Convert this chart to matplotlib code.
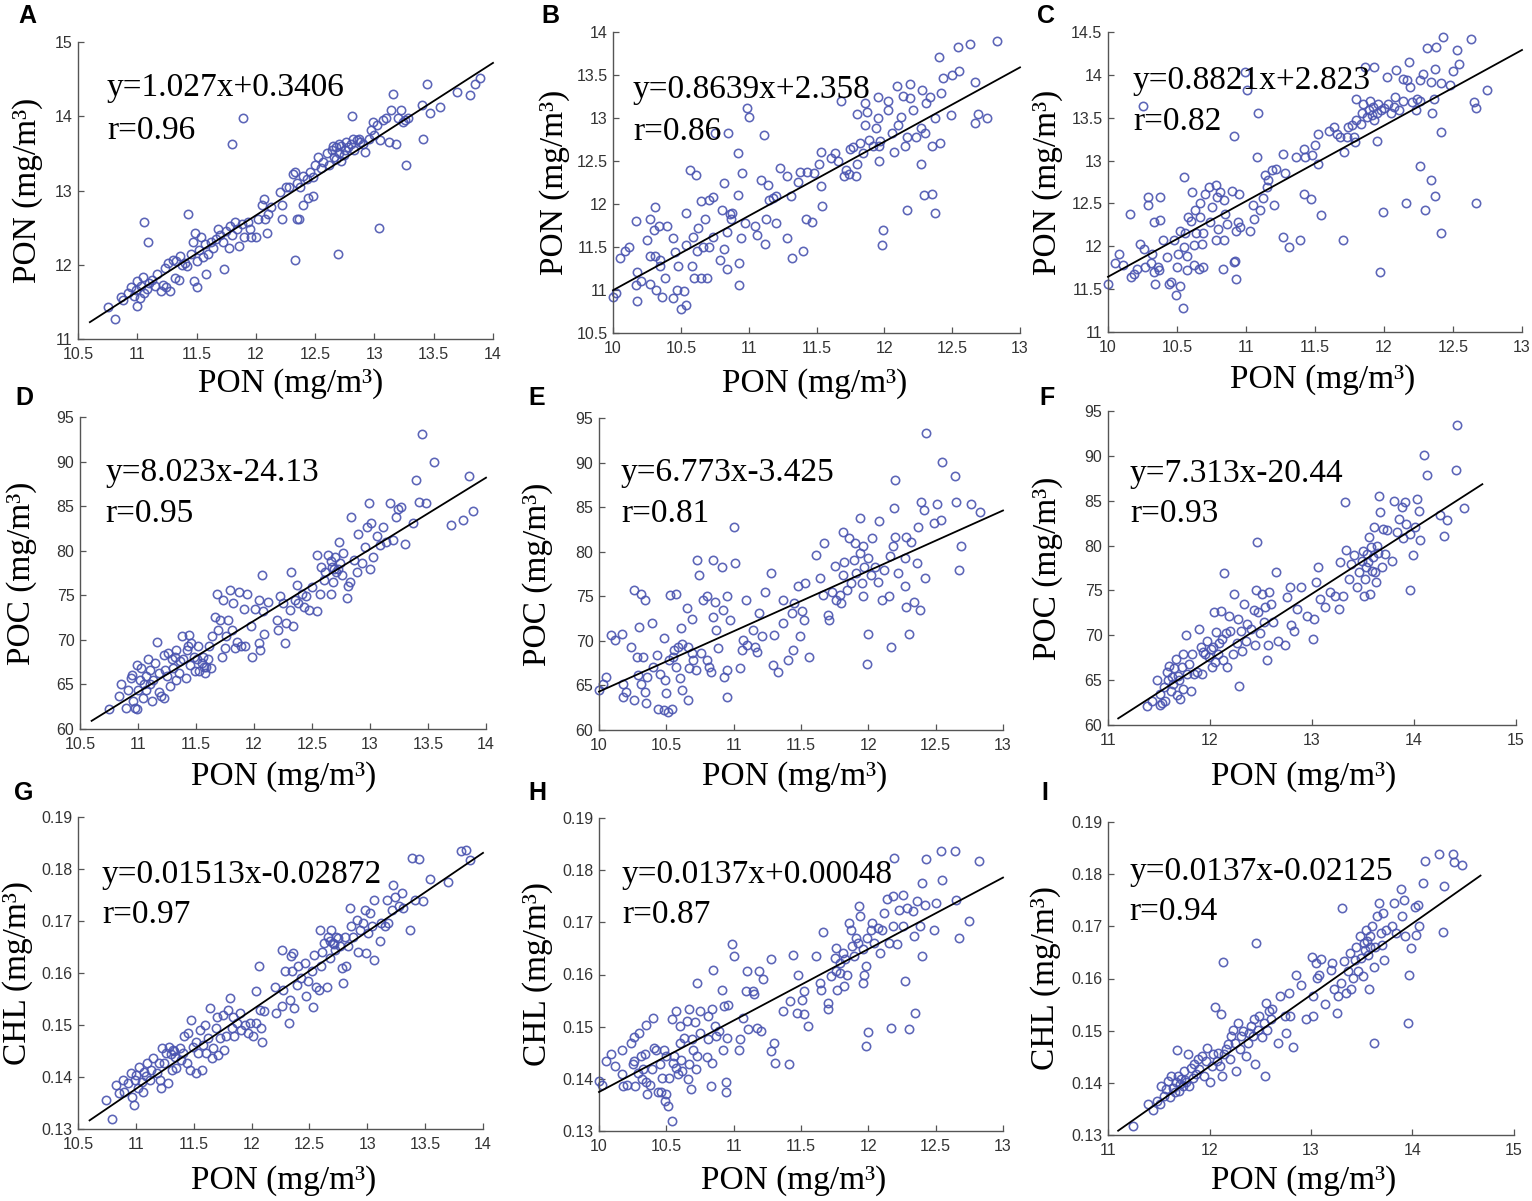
import matplotlib
matplotlib.use('Agg')
import matplotlib.pyplot as plt
import numpy as np
from matplotlib.ticker import FuncFormatter

plt.rcParams['font.family'] = ['Liberation Sans', 'DejaVu Sans']

# ---------------- data ----------------
a_points = [(11.89, 13.98), (11.80, 13.63), (11.43, 12.68), (11.06, 12.57), (11.09, 12.30), (12.33, 12.07),
            (12.69, 12.15), (13.04, 12.49), (13.27, 13.34), (13.41, 13.69), (13.44, 14.43), (13.16, 14.30),
            (12.81, 14.00), (13.70, 14.33), (13.81, 14.28), (13.85, 14.43), (13.89, 14.52), (13.55, 14.13),
            (13.47, 14.04), (13.40, 14.15), (12.35, 12.62), (12.36, 12.62), (12.48, 12.93), (12.44, 12.90),
            (12.40, 12.80), (12.22, 12.62), (12.09, 12.43), (11.96, 12.37), (12.00, 12.37), (11.73, 11.94),
            (11.50, 11.70), (11.58, 11.88), (11.48, 11.78), (10.75, 11.43), (10.81, 11.27), (11.00, 11.45),
            (10.86, 11.57), (10.88, 11.52), (10.92, 11.62), (10.95, 11.70), (10.97, 11.58), (10.99, 11.66),
            (11.00, 11.78), (11.02, 11.55), (11.03, 11.72), (11.05, 11.83), (11.06, 11.62), (11.08, 11.68),
            (11.10, 11.75), (11.12, 11.80), (11.15, 11.72), (11.17, 11.88), (11.20, 11.65), (11.22, 11.73),
            (11.23, 11.95), (11.24, 11.70), (11.26, 12.02), (11.28, 11.65), (11.30, 12.07), (11.32, 11.82),
            (11.33, 12.05), (11.35, 11.80), (11.36, 12.12), (11.38, 12.00), (11.40, 12.02), (11.42, 11.98),
            (11.45, 12.15), (11.47, 12.30), (11.49, 12.43), (11.50, 12.05), (11.52, 12.20), (11.54, 12.38),
            (11.55, 12.10), (11.57, 12.28), (11.60, 12.15), (11.62, 12.30), (11.64, 12.22), (11.66, 12.35),
            (11.68, 12.48), (11.70, 12.40), (11.72, 12.30), (11.75, 12.45), (11.77, 12.22), (11.78, 12.52),
            (11.80, 12.40), (11.82, 12.58), (11.84, 12.48), (11.86, 12.25), (11.88, 12.55), (11.90, 12.38),
            (11.93, 12.58), (11.95, 12.48), (12.02, 12.62), (12.05, 12.80), (12.07, 12.88), (12.10, 12.68),
            (12.08, 12.62), (12.13, 12.78), (12.20, 12.98), (12.22, 12.80), (12.25, 13.05), (12.28, 13.05),
            (12.31, 13.22), (12.33, 13.25), (12.35, 13.10), (12.37, 13.05), (12.40, 13.20), (12.43, 13.15),
            (12.46, 13.25), (12.48, 13.18), (12.50, 13.35), (12.52, 13.45), (12.55, 13.30), (12.57, 13.38),
            (12.60, 13.50), (12.62, 13.35), (12.64, 13.55), (12.66, 13.45), (12.68, 13.58), (12.70, 13.50),
            (12.72, 13.60), (12.74, 13.48), (12.76, 13.65), (12.78, 13.58), (12.80, 13.62), (12.83, 13.55),
            (12.85, 13.68), (12.87, 13.70), (12.90, 13.62), (12.92, 13.52), (12.95, 13.70), (12.97, 13.82),
            (12.99, 13.92), (13.00, 13.75), (13.02, 13.88), (13.05, 13.68), (13.07, 13.95), (13.10, 13.98),
            (13.12, 13.65), (13.14, 14.08), (13.18, 13.63), (13.20, 13.98), (13.22, 14.08), (13.24, 13.92),
            (13.26, 13.95), (13.28, 13.97), (12.65, 13.60), (12.70, 13.62), (12.75, 13.55), (12.82, 13.70),
            (12.88, 13.65), (12.68, 13.42), (12.72, 13.40)]

b_points = [(10.00, 10.92), (10.02, 10.97), (10.05, 11.37), (10.09, 11.45), (10.12, 11.50), (10.17, 11.80),
            (10.18, 11.21), (10.18, 10.87), (10.17, 11.06), (10.21, 11.10), (10.25, 11.58), (10.27, 11.82),
            (10.27, 11.40), (10.27, 11.07), (10.30, 11.70), (10.31, 11.97), (10.31, 11.40), (10.32, 11.00),
            (10.34, 11.74), (10.35, 11.35), (10.36, 10.92), (10.35, 11.28), (10.38, 11.14), (10.40, 11.74),
            (10.44, 11.60), (10.44, 10.91), (10.46, 11.44), (10.47, 11.00), (10.48, 11.28), (10.50, 10.78),
            (10.54, 10.83), (10.52, 10.99), (10.54, 11.89), (10.54, 11.52), (10.57, 12.39), (10.61, 12.34),
            (10.58, 11.28), (10.59, 11.62), (10.60, 11.14), (10.62, 11.45), (10.63, 11.72), (10.65, 12.03),
            (10.65, 11.14), (10.66, 11.50), (10.68, 11.83), (10.69, 11.14), (10.71, 12.05), (10.74, 12.08),
            (10.74, 11.62), (10.75, 12.82), (10.71, 11.50), (10.79, 11.35), (10.80, 11.93), (10.82, 12.24),
            (10.82, 11.48), (10.84, 11.25), (10.84, 11.68), (10.85, 12.82), (10.86, 11.88), (10.87, 11.82),
            (10.88, 11.90), (10.92, 12.59), (10.92, 12.10), (10.93, 11.31), (10.93, 11.06), (10.95, 12.36),
            (10.94, 11.60), (10.97, 11.78), (10.99, 13.12), (11.00, 13.01), (11.05, 11.74), (11.06, 11.64),
            (11.09, 12.28), (11.11, 12.80), (11.12, 11.53), (11.13, 11.83), (11.14, 12.22), (11.15, 12.05),
            (11.18, 12.07), (11.20, 11.78), (11.20, 12.09), (11.23, 12.42), (11.28, 12.33), (11.28, 11.60),
            (11.31, 12.09), (11.32, 11.37), (11.36, 12.26), (11.38, 12.37), (11.40, 11.45), (11.42, 11.83),
            (11.43, 12.37), (11.47, 11.79), (11.48, 12.36), (11.52, 12.47), (11.53, 12.60), (11.53, 12.21),
            (11.54, 11.98), (11.61, 12.53), (11.64, 12.59), (11.66, 12.50), (11.68, 13.20), (11.70, 12.33),
            (11.72, 12.39), (11.74, 12.35), (11.75, 12.64), (11.77, 12.66), (11.79, 12.32), (11.80, 13.05),
            (11.80, 12.47), (11.82, 12.71), (11.84, 12.59), (11.86, 13.17), (11.87, 13.07), (11.86, 12.92),
            (11.89, 12.74), (11.92, 12.68), (11.94, 12.88), (11.95, 13.00), (11.95, 13.25), (11.96, 12.50),
            (11.96, 12.67), (11.97, 12.73), (11.99, 11.70), (11.98, 11.52), (12.03, 13.20), (12.03, 13.09),
            (12.06, 12.82), (12.07, 12.60), (12.09, 13.37), (12.10, 12.92), (12.12, 13.01), (12.14, 13.26),
            (12.15, 12.67), (12.17, 12.78), (12.17, 11.93), (12.19, 13.40), (12.19, 13.23), (12.21, 13.09),
            (12.23, 12.78), (12.27, 12.88), (12.28, 13.32), (12.27, 12.47), (12.29, 12.10), (12.30, 12.82),
            (12.31, 13.17), (12.34, 13.25), (12.35, 12.67), (12.35, 12.12), (12.37, 11.90), (12.37, 13.00),
            (12.40, 13.71), (12.41, 12.71), (12.42, 13.29), (12.43, 13.46), (12.49, 13.03), (12.50, 13.50),
            (12.54, 13.83), (12.55, 13.55), (12.63, 13.86), (12.67, 13.42), (12.67, 12.94), (12.69, 13.05),
            (12.76, 13.00), (12.83, 13.90)]

c_points = [(10.00, 11.56), (10.05, 11.81), (10.08, 11.91), (10.11, 11.78), (10.16, 12.38), (10.17, 11.64),
            (10.19, 11.68), (10.21, 11.74), (10.23, 12.03), (10.25, 13.64), (10.26, 11.97), (10.27, 11.76),
            (10.29, 12.57), (10.29, 12.48), (10.31, 11.80), (10.32, 11.91), (10.33, 12.28), (10.33, 11.70),
            (10.34, 11.56), (10.36, 11.76), (10.38, 12.57), (10.38, 12.31), (10.37, 11.72), (10.40, 12.07),
            (10.43, 11.87), (10.44, 11.56), (10.46, 11.58), (10.48, 12.07), (10.49, 11.43), (10.50, 11.76),
            (10.51, 11.91), (10.52, 12.18), (10.52, 11.54), (10.54, 11.28), (10.55, 11.99), (10.55, 12.81),
            (10.56, 12.15), (10.57, 11.72), (10.57, 11.89), (10.58, 12.34), (10.60, 12.30), (10.61, 12.63),
            (10.62, 12.01), (10.62, 11.78), (10.63, 12.42), (10.64, 12.15), (10.66, 11.74), (10.67, 12.34),
            (10.67, 12.50), (10.68, 12.03), (10.69, 12.15), (10.69, 11.76), (10.70, 12.61), (10.73, 12.69),
            (10.74, 12.28), (10.75, 12.46), (10.78, 12.71), (10.78, 12.07), (10.79, 12.57), (10.80, 12.20),
            (10.81, 12.63), (10.83, 11.74), (10.84, 12.07), (10.84, 12.54), (10.85, 12.38), (10.86, 12.26),
            (10.90, 12.65), (10.91, 11.82), (10.92, 11.83), (10.91, 13.29), (10.93, 12.18), (10.93, 11.62),
            (10.94, 12.28), (10.95, 12.61), (10.96, 12.22), (10.99, 14.03), (11.01, 13.82), (11.03, 12.18),
            (11.05, 12.48), (11.06, 12.32), (11.08, 13.04), (11.09, 13.55), (11.10, 12.42), (11.12, 12.56),
            (11.14, 12.83), (11.15, 12.69), (11.16, 12.77), (11.19, 12.89), (11.20, 12.48), (11.22, 12.90),
            (11.27, 13.08), (11.27, 12.11), (11.28, 12.85), (11.31, 11.99), (11.36, 13.04), (11.39, 12.07),
            (11.42, 13.14), (11.42, 12.61), (11.43, 13.04), (11.47, 12.55), (11.48, 13.06), (11.50, 13.18),
            (11.52, 13.31), (11.52, 12.96), (11.54, 12.36), (11.60, 13.35), (11.64, 13.39), (11.66, 13.31),
            (11.68, 13.27), (11.70, 12.07), (11.71, 13.10), (11.73, 13.27), (11.74, 13.39), (11.77, 13.41),
            (11.78, 13.27), (11.79, 13.22), (11.80, 13.72), (11.80, 13.47), (11.83, 13.43), (11.84, 13.55),
            (11.85, 13.66), (11.86, 14.09), (11.88, 13.51), (11.89, 13.59), (11.90, 13.70), (11.91, 13.53),
            (11.92, 13.62), (11.93, 14.09), (11.93, 13.47), (11.95, 13.55), (11.95, 13.23), (11.96, 13.66),
            (11.97, 11.70), (11.98, 13.59), (11.99, 12.40), (12.00, 13.61), (12.02, 13.97), (12.03, 13.66),
            (12.05, 13.55), (12.07, 13.62), (12.08, 13.74), (12.09, 14.06), (12.11, 13.59), (12.14, 13.70),
            (12.14, 13.95), (12.16, 12.50), (12.18, 14.15), (12.17, 13.94), (12.19, 13.86), (12.20, 13.68),
            (12.23, 13.59), (12.24, 13.72), (12.26, 13.70), (12.26, 12.94), (12.26, 13.94), (12.28, 14.01),
            (12.30, 12.42), (12.31, 14.31), (12.34, 12.77), (12.34, 13.92), (12.35, 13.55), (12.36, 13.72),
            (12.37, 12.59), (12.37, 14.07), (12.38, 14.33), (12.41, 13.90), (12.41, 13.33), (12.41, 12.15),
            (12.43, 14.44), (12.48, 13.88), (12.50, 14.05), (12.53, 14.29), (12.54, 14.13), (12.63, 14.42),
            (12.65, 13.68), (12.67, 13.61), (12.67, 12.50), (12.75, 13.82)]

d_points = [(10.75, 62.2), (10.84, 63.7), (10.85, 65.1), (10.90, 62.4), (10.91, 64.4), (10.94, 65.7),
            (10.95, 66.1), (10.96, 63.1), (10.97, 62.4), (10.99, 67.2), (10.99, 62.2), (11.00, 64.4),
            (11.02, 65.5), (11.03, 66.8), (11.04, 63.5), (11.05, 65.1), (11.07, 64.4), (11.07, 65.9),
            (11.09, 67.9), (11.10, 65.1), (11.10, 66.6), (11.12, 63.1), (11.13, 65.5), (11.15, 67.4),
            (11.16, 69.8), (11.18, 64.2), (11.18, 66.3), (11.20, 63.7), (11.22, 63.5), (11.22, 68.3),
            (11.23, 66.6), (11.25, 65.9), (11.26, 68.5), (11.28, 64.8), (11.29, 67.8), (11.30, 66.8),
            (11.32, 68.1), (11.33, 65.5), (11.33, 68.9), (11.35, 66.3), (11.36, 67.6), (11.38, 70.4),
            (11.39, 67.9), (11.41, 65.7), (11.42, 68.9), (11.43, 69.3), (11.44, 70.6), (11.45, 67.2),
            (11.46, 69.6), (11.48, 68.1), (11.49, 66.5), (11.51, 67.8), (11.52, 69.3), (11.53, 66.5),
            (11.55, 67.4), (11.56, 68.1), (11.58, 66.3), (11.59, 67.0), (11.61, 69.3), (11.63, 66.8),
            (11.64, 70.4), (11.66, 72.6), (11.68, 75.2), (11.69, 71.1), (11.71, 72.2), (11.72, 68.1),
            (11.73, 74.5), (11.75, 69.1), (11.76, 70.4), (11.78, 72.2), (11.79, 75.6), (11.81, 71.1),
            (11.82, 74.1), (11.84, 69.1), (11.85, 69.8), (11.87, 75.4), (11.89, 69.3), (11.91, 73.5),
            (11.92, 69.3), (11.94, 75.1), (11.97, 71.5), (11.98, 68.1), (12.01, 73.5), (12.04, 74.5),
            (12.04, 69.6), (12.05, 68.9), (12.07, 77.3), (12.08, 73.2), (12.09, 70.7), (12.12, 74.3),
            (12.20, 72.2), (12.21, 71.1), (12.22, 74.9), (12.25, 74.1), (12.27, 69.6), (12.28, 71.9),
            (12.31, 73.4), (12.32, 77.6), (12.34, 71.5), (12.35, 74.5), (12.37, 76.2), (12.38, 74.1),
            (12.41, 75.2), (12.43, 73.7), (12.45, 74.9), (12.47, 73.4), (12.50, 75.9), (12.54, 73.2),
            (12.54, 79.5), (12.57, 75.2), (12.58, 78.2), (12.60, 76.7), (12.61, 77.6), (12.64, 79.5),
            (12.66, 75.2), (12.67, 78.2), (12.68, 76.5), (12.70, 79.3), (12.71, 77.6), (12.73, 81.0),
            (12.74, 78.6), (12.76, 77.3), (12.77, 79.7), (12.80, 74.7), (12.81, 76.0), (12.83, 76.5),
            (12.84, 83.8), (12.86, 79.0), (12.89, 77.6), (12.90, 81.9), (12.93, 78.6), (12.96, 80.4),
            (12.97, 82.7), (12.99, 85.3), (13.00, 78.0), (13.01, 83.1), (13.03, 79.3), (13.06, 81.6),
            (13.09, 80.6), (13.11, 82.7), (13.14, 81.0), (13.17, 85.3), (13.20, 81.2), (13.22, 83.8),
            (13.24, 84.7), (13.27, 84.9), (13.30, 80.8), (13.37, 83.1), (13.40, 87.9), (13.42, 85.5),
            (13.45, 93.1), (13.48, 85.3), (13.55, 90.0), (13.70, 82.9), (13.80, 83.4), (13.85, 88.4),
            (13.89, 84.4), (11.57, 66.9), (11.60, 67.8), (12.66, 78.8), (12.69, 77.9), (12.72, 78.0)]

e_points = [(10.00, 64.5), (10.03, 65.2), (10.05, 66.0), (10.09, 70.7), (10.12, 70.1), (10.17, 70.8),
            (10.18, 65.2), (10.18, 63.7), (10.20, 64.3), (10.24, 69.3), (10.26, 75.7), (10.26, 63.4),
            (10.28, 68.2), (10.29, 66.2), (10.30, 71.6), (10.31, 75.3), (10.31, 65.2), (10.33, 68.2),
            (10.34, 74.6), (10.34, 64.3), (10.35, 63.0), (10.36, 66.0), (10.39, 72.0), (10.40, 67.1),
            (10.43, 68.4), (10.44, 62.4), (10.45, 66.3), (10.48, 62.2), (10.48, 70.3), (10.49, 65.6),
            (10.50, 64.1), (10.51, 62.0), (10.52, 67.8), (10.53, 75.2), (10.54, 62.4), (10.55, 68.2),
            (10.56, 69.0), (10.57, 75.3), (10.57, 67.1), (10.59, 69.3), (10.60, 65.8), (10.61, 71.4),
            (10.62, 69.7), (10.62, 64.5), (10.65, 73.7), (10.66, 69.3), (10.66, 63.4), (10.67, 66.9),
            (10.69, 72.5), (10.69, 68.6), (10.70, 67.8), (10.72, 66.7), (10.73, 79.1), (10.74, 77.4),
            (10.76, 68.6), (10.77, 74.6), (10.80, 67.8), (10.80, 75.0), (10.82, 67.1), (10.83, 66.5),
            (10.85, 79.1), (10.85, 72.7), (10.86, 74.4), (10.87, 71.2), (10.88, 69.2), (10.91, 78.3),
            (10.92, 73.5), (10.93, 66.0), (10.95, 66.7), (10.95, 63.7), (10.95, 75.0), (10.97, 72.3),
            (11.00, 82.8), (11.01, 78.7), (11.05, 66.9), (11.06, 69.0), (11.07, 70.1), (11.09, 74.6),
            (11.10, 69.5), (11.14, 71.2), (11.16, 69.3), (11.17, 68.8), (11.19, 73.1), (11.21, 70.5),
            (11.23, 75.5), (11.28, 77.6), (11.29, 67.3), (11.30, 70.7), (11.33, 66.5), (11.37, 72.0),
            (11.37, 74.6), (11.40, 67.8), (11.43, 73.1), (11.44, 69.0), (11.45, 74.2), (11.48, 76.1),
            (11.49, 70.5), (11.51, 73.3), (11.52, 72.3), (11.53, 76.5), (11.56, 68.2), (11.61, 79.6),
            (11.64, 77.0), (11.66, 75.1), (11.67, 81.0), (11.70, 72.9), (11.71, 72.3), (11.73, 75.5),
            (11.75, 78.4), (11.76, 74.6), (11.79, 75.1), (11.80, 74.2), (11.81, 82.2), (11.81, 77.4),
            (11.82, 78.9), (11.84, 75.7), (11.86, 81.5), (11.87, 76.5), (11.89, 79.1), (11.90, 81.0),
            (11.91, 77.6), (11.94, 83.8), (11.94, 79.8), (11.95, 76.5), (11.96, 75.0), (11.96, 80.6),
            (11.97, 78.3), (12.00, 79.3), (12.00, 70.8), (11.99, 67.4), (12.02, 77.4), (12.03, 81.5),
            (12.05, 78.3), (12.07, 76.6), (12.08, 83.4), (12.10, 74.6), (12.12, 78.0), (12.15, 75.0),
            (12.16, 79.5), (12.17, 69.3), (12.18, 80.6), (12.19, 84.9), (12.20, 88.1), (12.20, 81.7),
            (12.22, 77.6), (12.27, 79.3), (12.27, 76.1), (12.28, 73.8), (12.28, 81.7), (12.30, 70.8),
            (12.32, 81.1), (12.34, 74.4), (12.36, 78.7), (12.37, 82.8), (12.38, 73.5), (12.39, 85.6),
            (12.41, 84.7), (12.42, 77.0), (12.43, 93.3), (12.49, 83.2), (12.51, 85.3), (12.54, 83.6),
            (12.55, 90.1), (12.64, 88.5), (12.65, 85.6), (12.67, 78.0), (12.69, 80.6), (12.76, 85.3),
            (12.83, 84.4)]

f_points = [(11.38, 62.1), (11.43, 62.7), (11.48, 65.0), (11.51, 62.2), (11.51, 63.5), (11.53, 62.4),
            (11.55, 64.2), (11.56, 62.7), (11.58, 65.9), (11.59, 65.0), (11.60, 66.6), (11.62, 63.8),
            (11.63, 65.3), (11.64, 64.6), (11.65, 66.3), (11.67, 67.4), (11.68, 63.3), (11.69, 65.5),
            (11.70, 65.0), (11.71, 62.9), (11.73, 66.5), (11.74, 67.9), (11.74, 64.0), (11.76, 70.0),
            (11.77, 65.7), (11.79, 66.8), (11.81, 63.8), (11.82, 67.9), (11.84, 65.7), (11.87, 65.9),
            (11.89, 70.7), (11.91, 68.7), (11.92, 65.7), (11.93, 68.1), (11.95, 67.9), (11.97, 69.4),
            (11.99, 67.6), (12.01, 68.5), (12.02, 66.5), (12.03, 68.7), (12.04, 72.6), (12.05, 67.0),
            (12.06, 70.4), (12.08, 67.9), (12.09, 69.1), (12.11, 72.7), (12.12, 69.6), (12.13, 67.2),
            (12.14, 76.9), (12.16, 70.2), (12.17, 66.5), (12.19, 72.2), (12.20, 70.5), (12.23, 67.9),
            (12.24, 74.6), (12.26, 69.1), (12.27, 71.8), (12.28, 64.3), (12.30, 70.5), (12.31, 68.3),
            (12.33, 73.5), (12.35, 69.4), (12.36, 71.3), (12.40, 70.7), (12.43, 72.8), (12.44, 68.9),
            (12.45, 75.1), (12.46, 80.4), (12.47, 72.6), (12.49, 70.2), (12.51, 74.6), (12.53, 71.5),
            (12.54, 73.1), (12.56, 67.2), (12.57, 68.9), (12.58, 74.8), (12.60, 73.5), (12.62, 71.5),
            (12.65, 77.0), (12.67, 69.4), (12.74, 68.9), (12.75, 74.3), (12.78, 75.4), (12.79, 71.1),
            (12.82, 70.5), (12.85, 72.9), (12.89, 75.4), (12.95, 72.2), (13.01, 69.6), (13.02, 71.8),
            (13.04, 75.9), (13.06, 77.6), (13.08, 74.1), (13.13, 73.1), (13.18, 74.8), (13.23, 74.4),
            (13.26, 72.9), (13.27, 78.2), (13.30, 74.4), (13.32, 84.9), (13.33, 79.5), (13.36, 76.3),
            (13.38, 78.0), (13.41, 78.9), (13.44, 75.4), (13.46, 77.0), (13.49, 78.3), (13.51, 74.4),
            (13.52, 76.3), (13.54, 79.1), (13.56, 80.9), (13.57, 74.6), (13.59, 77.2), (13.60, 78.7),
            (13.61, 82.1), (13.63, 75.9), (13.64, 80.0), (13.66, 85.5), (13.67, 83.7), (13.69, 77.6),
            (13.70, 81.9), (13.72, 79.1), (13.74, 81.7), (13.78, 78.3), (13.80, 85.0), (13.83, 81.5),
            (13.85, 83.0), (13.88, 84.3), (13.89, 80.8), (13.91, 84.9), (13.92, 82.4), (13.96, 75.1),
            (13.96, 81.3), (13.99, 78.9), (14.01, 82.1), (14.03, 85.2), (14.05, 83.9), (14.06, 80.6),
            (14.10, 90.1), (14.13, 87.9), (14.25, 83.4), (14.29, 81.1), (14.32, 82.9), (14.41, 88.4),
            (14.42, 93.4), (14.49, 84.2), (13.50, 79.4), (13.55, 78.2), (13.58, 79.8), (13.62, 77.0),
            (13.53, 77.6), (13.65, 79.2)]

g_points = [(10.74, 0.1356), (10.79, 0.1320), (10.83, 0.1385), (10.85, 0.1369), (10.89, 0.1394), (10.90, 0.1372),
            (10.93, 0.1388), (10.96, 0.1407), (10.97, 0.1362), (10.98, 0.1346), (10.99, 0.1394), (11.00, 0.1404),
            (11.02, 0.1378), (11.03, 0.1420), (11.05, 0.1391), (11.06, 0.1372), (11.07, 0.1410), (11.09, 0.1401),
            (11.10, 0.1426), (11.12, 0.1394), (11.13, 0.1414), (11.15, 0.1436), (11.18, 0.1407), (11.20, 0.1426),
            (11.21, 0.1394), (11.22, 0.1378), (11.23, 0.1455), (11.24, 0.1426), (11.26, 0.1446), (11.28, 0.1388),
            (11.29, 0.1458), (11.31, 0.1414), (11.32, 0.1452), (11.34, 0.1439), (11.35, 0.1417), (11.38, 0.1455),
            (11.39, 0.1433), (11.41, 0.1446), (11.42, 0.1478), (11.44, 0.1426), (11.45, 0.1484), (11.47, 0.1414),
            (11.48, 0.1510), (11.49, 0.1458), (11.52, 0.1407), (11.52, 0.1468), (11.54, 0.1446), (11.55, 0.1491),
            (11.57, 0.1414), (11.58, 0.1462), (11.60, 0.1500), (11.61, 0.1446), (11.62, 0.1475), (11.64, 0.1532),
            (11.66, 0.1436), (11.67, 0.1455), (11.69, 0.1494), (11.70, 0.1516), (11.71, 0.1442), (11.73, 0.1475),
            (11.75, 0.1519), (11.76, 0.1452), (11.78, 0.1478), (11.80, 0.1529), (11.81, 0.1551), (11.83, 0.1494),
            (11.84, 0.1516), (11.85, 0.1478), (11.87, 0.1503), (11.90, 0.1523), (11.91, 0.1491), (11.94, 0.1500),
            (11.97, 0.1484), (11.99, 0.1503), (12.01, 0.1478), (12.04, 0.1503), (12.04, 0.1566), (12.06, 0.1613),
            (12.07, 0.1529), (12.08, 0.1494), (12.09, 0.1468), (12.11, 0.1526), (12.20, 0.1574), (12.21, 0.1523),
            (12.26, 0.1536), (12.26, 0.1645), (12.27, 0.1568), (12.29, 0.1603), (12.32, 0.1503), (12.33, 0.1548),
            (12.34, 0.1632), (12.35, 0.1603), (12.36, 0.1638), (12.37, 0.1532), (12.39, 0.1577), (12.40, 0.1613),
            (12.43, 0.1590), (12.46, 0.1619), (12.47, 0.1555), (12.49, 0.1584), (12.52, 0.1603), (12.53, 0.1535),
            (12.54, 0.1635), (12.56, 0.1574), (12.58, 0.1568), (12.59, 0.1683), (12.60, 0.1613), (12.61, 0.1641),
            (12.63, 0.1657), (12.65, 0.1574), (12.66, 0.1670), (12.68, 0.1629), (12.69, 0.1683), (12.70, 0.1657),
            (12.72, 0.1645), (12.73, 0.1670), (12.76, 0.1651), (12.78, 0.1609), (12.79, 0.1580), (12.81, 0.1670),
            (12.82, 0.1613), (12.83, 0.1651), (12.85, 0.1725), (12.86, 0.1690), (12.88, 0.1670), (12.91, 0.1702),
            (12.92, 0.1641), (12.94, 0.1683), (12.96, 0.1696), (12.98, 0.1722), (12.99, 0.1638), (13.01, 0.1677),
            (13.02, 0.1715), (13.04, 0.1690), (13.06, 0.1625), (13.06, 0.1741), (13.11, 0.1661), (13.12, 0.1696),
            (13.15, 0.1690), (13.17, 0.1741), (13.18, 0.1696), (13.21, 0.1722), (13.22, 0.1770), (13.24, 0.1747),
            (13.27, 0.1728), (13.30, 0.1754), (13.31, 0.1725), (13.37, 0.1683), (13.39, 0.1822), (13.41, 0.1741),
            (13.45, 0.1819), (13.48, 0.1738), (13.54, 0.1781), (13.70, 0.1775), (13.81, 0.1834), (13.85, 0.1837),
            (13.89, 0.1818), (11.30, 0.1445), (11.33, 0.1450), (12.68, 0.1662), (12.71, 0.1655), (12.75, 0.1668)]

h_points = [(10.00, 0.1396), (10.02, 0.1388), (10.05, 0.1434), (10.09, 0.1447), (10.12, 0.1425), (10.17, 0.1456),
            (10.17, 0.1409), (10.18, 0.1386), (10.21, 0.1389), (10.24, 0.1469), (10.25, 0.1428), (10.26, 0.1481),
            (10.26, 0.1434), (10.27, 0.1386), (10.29, 0.1412), (10.30, 0.1488), (10.31, 0.1444), (10.32, 0.1399),
            (10.33, 0.1418), (10.34, 0.1447), (10.35, 0.1504), (10.35, 0.1393), (10.36, 0.1370), (10.38, 0.1389),
            (10.39, 0.1418), (10.40, 0.1517), (10.41, 0.1460), (10.42, 0.1456), (10.44, 0.1374), (10.45, 0.1428),
            (10.46, 0.1374), (10.47, 0.1402), (10.48, 0.1456), (10.49, 0.1358), (10.50, 0.1444), (10.50, 0.1370),
            (10.51, 0.1348), (10.52, 0.1402), (10.54, 0.1514), (10.54, 0.1319), (10.55, 0.1431), (10.56, 0.1444),
            (10.57, 0.1530), (10.57, 0.1421), (10.59, 0.1409), (10.60, 0.1469), (10.60, 0.1501), (10.61, 0.1437),
            (10.62, 0.1415), (10.63, 0.1479), (10.65, 0.1511), (10.66, 0.1399), (10.67, 0.1428), (10.67, 0.1533),
            (10.68, 0.1380), (10.69, 0.1476), (10.70, 0.1456), (10.71, 0.1508), (10.72, 0.1418), (10.73, 0.1583),
            (10.73, 0.1444), (10.75, 0.1488), (10.75, 0.1530), (10.80, 0.1441), (10.81, 0.1520), (10.81, 0.1476),
            (10.83, 0.1386), (10.84, 0.1533), (10.84, 0.1431), (10.85, 0.1608), (10.86, 0.1501), (10.87, 0.1482),
            (10.89, 0.1492), (10.91, 0.1571), (10.92, 0.1456), (10.93, 0.1539), (10.94, 0.1393), (10.94, 0.1374),
            (10.95, 0.1479), (10.96, 0.1541), (10.99, 0.1659), (11.00, 0.1636), (11.04, 0.1456), (11.05, 0.1476),
            (11.07, 0.1517), (11.09, 0.1568), (11.10, 0.1606), (11.11, 0.1495), (11.14, 0.1568), (11.15, 0.1562),
            (11.17, 0.1498), (11.19, 0.1606), (11.20, 0.1492), (11.22, 0.1591), (11.28, 0.1453), (11.28, 0.1630),
            (11.30, 0.1469), (11.31, 0.1431), (11.37, 0.1530), (11.41, 0.1428), (11.42, 0.1549), (11.44, 0.1638),
            (11.48, 0.1600), (11.47, 0.1527), (11.51, 0.1552), (11.52, 0.1568), (11.52, 0.1524), (11.55, 0.1501),
            (11.61, 0.1635), (11.64, 0.1584), (11.65, 0.1571), (11.66, 0.1681), (11.70, 0.1546), (11.70, 0.1533),
            (11.72, 0.1597), (11.75, 0.1632), (11.76, 0.1606), (11.76, 0.1651), (11.77, 0.1571), (11.79, 0.1622),
            (11.79, 0.1603), (11.81, 0.1642), (11.82, 0.1578), (11.83, 0.1629), (11.84, 0.1600), (11.86, 0.1699),
            (11.87, 0.1686), (11.88, 0.1654), (11.89, 0.1635), (11.91, 0.1670), (11.92, 0.1661), (11.93, 0.1731),
            (11.94, 0.1712), (11.96, 0.1648), (11.96, 0.1584), (11.97, 0.1600), (11.98, 0.1616), (11.98, 0.1463),
            (11.99, 0.1670), (12.00, 0.1490), (12.02, 0.1686), (12.03, 0.1699), (12.04, 0.1661), (12.07, 0.1689),
            (12.09, 0.1642), (12.10, 0.1686), (12.12, 0.1718), (12.14, 0.1744), (12.15, 0.1661), (12.17, 0.1498),
            (12.18, 0.1693), (12.18, 0.1750), (12.19, 0.1823), (12.21, 0.1658), (12.23, 0.1724), (12.26, 0.1753),
            (12.26, 0.1693), (12.27, 0.1587), (12.29, 0.1728), (12.30, 0.1495), (12.33, 0.1721), (12.34, 0.1673),
            (12.35, 0.1527), (12.36, 0.1740), (12.38, 0.1693), (12.40, 0.1776), (12.40, 0.1635), (12.42, 0.1734),
            (12.43, 0.1822), (12.49, 0.1686), (12.50, 0.1737), (12.54, 0.1836), (12.55, 0.1782), (12.64, 0.1836),
            (12.65, 0.1742), (12.67, 0.1670), (12.75, 0.1702), (12.82, 0.1818)]

i_points = [(11.25, 0.1318), (11.39, 0.1359), (11.44, 0.1347), (11.48, 0.1366), (11.51, 0.1359), (11.52, 0.1394),
            (11.55, 0.1375), (11.57, 0.1388), (11.59, 0.1404), (11.61, 0.1372), (11.62, 0.1413), (11.64, 0.1391),
            (11.66, 0.1382), (11.67, 0.1401), (11.68, 0.1463), (11.69, 0.1413), (11.70, 0.1385), (11.72, 0.1407),
            (11.74, 0.1394), (11.75, 0.1423), (11.77, 0.1401), (11.79, 0.1455), (11.80, 0.1394), (11.82, 0.1429),
            (11.84, 0.1410), (11.85, 0.1436), (11.87, 0.1417), (11.89, 0.1445), (11.90, 0.1426), (11.93, 0.1452),
            (11.95, 0.1413), (11.97, 0.1442), (11.98, 0.1467), (12.00, 0.1401), (12.02, 0.1432), (12.03, 0.1455),
            (12.05, 0.1546), (12.07, 0.1442), (12.08, 0.1458), (12.10, 0.1432), (12.11, 0.1531), (12.12, 0.1413),
            (12.13, 0.1631), (12.14, 0.1455), (12.16, 0.1464), (12.18, 0.1474), (12.20, 0.1445), (12.21, 0.1490),
            (12.23, 0.1502), (12.25, 0.1477), (12.26, 0.1423), (12.28, 0.1515), (12.30, 0.1464), (12.31, 0.1490),
            (12.33, 0.1499), (12.36, 0.1452), (12.38, 0.1477), (12.39, 0.1496), (12.41, 0.1509), (12.43, 0.1490),
            (12.44, 0.1522), (12.45, 0.1436), (12.46, 0.1669), (12.48, 0.1502), (12.49, 0.1528), (12.52, 0.1487),
            (12.54, 0.1515), (12.55, 0.1413), (12.56, 0.1553), (12.57, 0.1502), (12.59, 0.1537), (12.61, 0.1522),
            (12.62, 0.1541), (12.67, 0.1477), (12.69, 0.1566), (12.74, 0.1528), (12.75, 0.1496), (12.78, 0.1572),
            (12.79, 0.1528), (12.82, 0.1469), (12.85, 0.1607), (12.90, 0.1588), (12.95, 0.1522), (13.01, 0.1642),
            (13.02, 0.1567), (13.02, 0.1528), (13.05, 0.1630), (13.06, 0.1601), (13.08, 0.1607), (13.10, 0.1637),
            (13.14, 0.1552), (13.20, 0.1617), (13.21, 0.1630), (13.23, 0.1579), (13.26, 0.1533), (13.27, 0.1566),
            (13.30, 0.1591), (13.31, 0.1735), (13.33, 0.1633), (13.34, 0.1572), (13.36, 0.1614), (13.38, 0.1649),
            (13.39, 0.1579), (13.41, 0.1601), (13.43, 0.1636), (13.44, 0.1661), (13.46, 0.1614), (13.48, 0.1681),
            (13.49, 0.1639), (13.51, 0.1604), (13.52, 0.1668), (13.54, 0.1693), (13.56, 0.1646), (13.57, 0.1579),
            (13.58, 0.1681), (13.60, 0.1700), (13.62, 0.1477), (13.62, 0.1623), (13.63, 0.1661), (13.65, 0.1719),
            (13.67, 0.1744), (13.69, 0.1687), (13.70, 0.1665), (13.71, 0.1725), (13.72, 0.1636), (13.74, 0.1693),
            (13.80, 0.1700), (13.82, 0.1744), (13.84, 0.1687), (13.89, 0.1772), (13.90, 0.1719), (13.92, 0.1751),
            (13.93, 0.1681), (13.96, 0.1514), (13.97, 0.1607), (13.99, 0.1658), (14.02, 0.1738), (14.03, 0.1684),
            (14.05, 0.1741), (14.06, 0.1700), (14.10, 0.1784), (14.12, 0.1826), (14.26, 0.1838), (14.30, 0.1690),
            (14.31, 0.1777), (14.40, 0.1838), (14.41, 0.1824), (14.49, 0.1817), (13.53, 0.1655), (13.58, 0.1660),
            (13.55, 0.1672), (11.71, 0.1398), (11.76, 0.1405)]

letters = ['A', 'B', 'C', 'D', 'E', 'F', 'G', 'H', 'I']
point_sets = [a_points, b_points, c_points, d_points, e_points, f_points, g_points, h_points, i_points]
slopes = [1.027, 0.8639, 0.8821, 8.023, 6.773, 7.313, 0.01513, 0.0137, 0.0137]
intercepts = [0.3406, 2.358, 2.823, -24.13, -3.425, -20.44, -0.02872, 0.00048, -0.02125]
fit_ranges = [(10.6, 14.0), (10.0, 13.0), (10.0, 13.0), (10.6, 14.0), (10.0, 13.0), (11.1, 14.67),
              (10.6, 14.0), (10.0, 13.0), (11.1, 14.67)]
eq_labels = ['y=1.027x+0.3406', 'y=0.8639x+2.358', 'y=0.8821x+2.823',
             'y=8.023x-24.13', 'y=6.773x-3.425', 'y=7.313x-20.44',
             'y=0.01513x-0.02872', 'y=0.0137x+0.00048', 'y=0.0137x-0.02125']
r_labels = ['r=0.96', 'r=0.86', 'r=0.82', 'r=0.95', 'r=0.81', 'r=0.93', 'r=0.97', 'r=0.87', 'r=0.94']
y_names = ['PON', 'PON', 'PON', 'POC', 'POC', 'POC', 'CHL', 'CHL', 'CHL']
x_name = 'PON'
xlims = [(10.5, 14), (10, 13), (10, 13), (10.5, 14), (10, 13), (11, 15), (10.5, 14), (10, 13), (11, 15)]
ylims = [(11, 15), (10.5, 14), (11, 14.5), (60, 95), (60, 95), (60, 95), (0.13, 0.19), (0.13, 0.19), (0.13, 0.19)]
xtick_sets = [[10.5, 11, 11.5, 12, 12.5, 13, 13.5, 14], [10, 10.5, 11, 11.5, 12, 12.5, 13],
              [10, 10.5, 11, 11.5, 12, 12.5, 13], [10.5, 11, 11.5, 12, 12.5, 13, 13.5, 14],
              [10, 10.5, 11, 11.5, 12, 12.5, 13], [11, 12, 13, 14, 15],
              [10.5, 11, 11.5, 12, 12.5, 13, 13.5, 14], [10, 10.5, 11, 11.5, 12, 12.5, 13], [11, 12, 13, 14, 15]]
ytick_sets = [[11, 12, 13, 14, 15], [10.5, 11, 11.5, 12, 12.5, 13, 13.5, 14],
              [11, 11.5, 12, 12.5, 13, 13.5, 14, 14.5], [60, 65, 70, 75, 80, 85, 90, 95],
              [60, 65, 70, 75, 80, 85, 90, 95], [60, 65, 70, 75, 80, 85, 90, 95],
              [0.13, 0.14, 0.15, 0.16, 0.17, 0.18, 0.19], [0.13, 0.14, 0.15, 0.16, 0.17, 0.18, 0.19],
              [0.13, 0.14, 0.15, 0.16, 0.17, 0.18, 0.19]]

# ---------------- layout (pixels in the 1532x1201 canvas) ----------------
W, H = 1532, 1201
boxes = [(78, 42, 493, 339), (613, 32, 1020, 333), (1108, 32, 1522, 332),
         (80, 417, 486, 729), (599, 418, 1003, 730), (1108, 411, 1516, 725),
         (78, 817, 483, 1129), (599, 818, 1003, 1131), (1108, 822, 1514, 1135)]
letter_pos = [(27, 16), (550, 16), (1046, 16), (24, 398), (537, 398), (1047, 398),
              (24, 793), (537, 793), (1045, 793)]
ylabel_x = [28, 555, 1048, 22, 538, 1048, 18, 538, 1046]
xlabel_pos = [(291, 384), (815, 384), (1323, 380), (284, 777), (795, 777), (1304, 777),
              (284, 1181), (794, 1181), (1304, 1181)]
eq_pos = [(0.07, 0.845, 0.70), (0.049, 0.807, 0.668), (0.06, 0.837, 0.70),
          (0.062, 0.82, 0.689), (0.054, 0.824, 0.692), (0.054, 0.80, 0.672),
          (0.059, 0.814, 0.686), (0.057, 0.818, 0.69), (0.052, 0.84, 0.712)]

marker_color = '#4a54b0'
serif = ['Liberation Serif', 'DejaVu Serif']
fmt = FuncFormatter(lambda v, p: f'{v:g}')

fig = plt.figure(figsize=(W / 100, H / 100), dpi=100)

for k in range(9):
    l, t, r, b = boxes[k]
    ax = fig.add_axes([l / W, 1 - b / H, (r - l) / W, (b - t) / H])
    px, py = zip(*point_sets[k])
    ax.plot(px, py, linestyle='none', marker='o', ms=6.0, mfc='none',
            mec=marker_color, mew=1.15, alpha=0.9, clip_on=False, zorder=2)
    fx = np.array(fit_ranges[k])
    ax.plot(fx, slopes[k] * fx + intercepts[k], color='black', lw=1.3, zorder=3, clip_on=False)
    ax.set_xlim(*xlims[k])
    ax.set_ylim(*ylims[k])
    ax.set_xticks(xtick_sets[k])
    ax.set_yticks(ytick_sets[k])
    ax.xaxis.set_major_formatter(fmt)
    ax.yaxis.set_major_formatter(fmt)
    for s in ['top', 'right']:
        ax.spines[s].set_visible(False)
    for s in ['left', 'bottom']:
        ax.spines[s].set_color('#555555')
        ax.spines[s].set_linewidth(1.0)
    ax.tick_params(axis='both', direction='in', length=4, width=0.9, color='#555555',
                   labelcolor='#333333', labelsize=11.5)
    ax.tick_params(axis='x', pad=6)
    ax.tick_params(axis='y', pad=4)
    ax.patch.set_alpha(0)

    ex, ey, ry = eq_pos[k]
    ax.text(ex, ey, eq_labels[k], transform=ax.transAxes, family=serif, fontsize=24,
            ha='left', va='center', color='black')
    ax.text(ex, ry, r_labels[k], transform=ax.transAxes, family=serif, fontsize=24,
            ha='left', va='center', color='black')

    fig.text(ylabel_x[k] / W, 1 - ((t + b) / 2) / H, f'{y_names[k]} (mg/m³)', family=serif,
             fontsize=24, rotation=90, ha='center', va='center')
    xl, yl = xlabel_pos[k]
    fig.text(xl / W, 1 - yl / H, f'{x_name} (mg/m³)', family=serif, fontsize=24,
             ha='center', va='center')
    lx, ly = letter_pos[k]
    fig.text(lx / W, 1 - ly / H, letters[k], fontsize=18, fontweight='bold',
             ha='center', va='center', family=['Liberation Sans', 'DejaVu Sans'])

fig.savefig('out.png', dpi=100)
